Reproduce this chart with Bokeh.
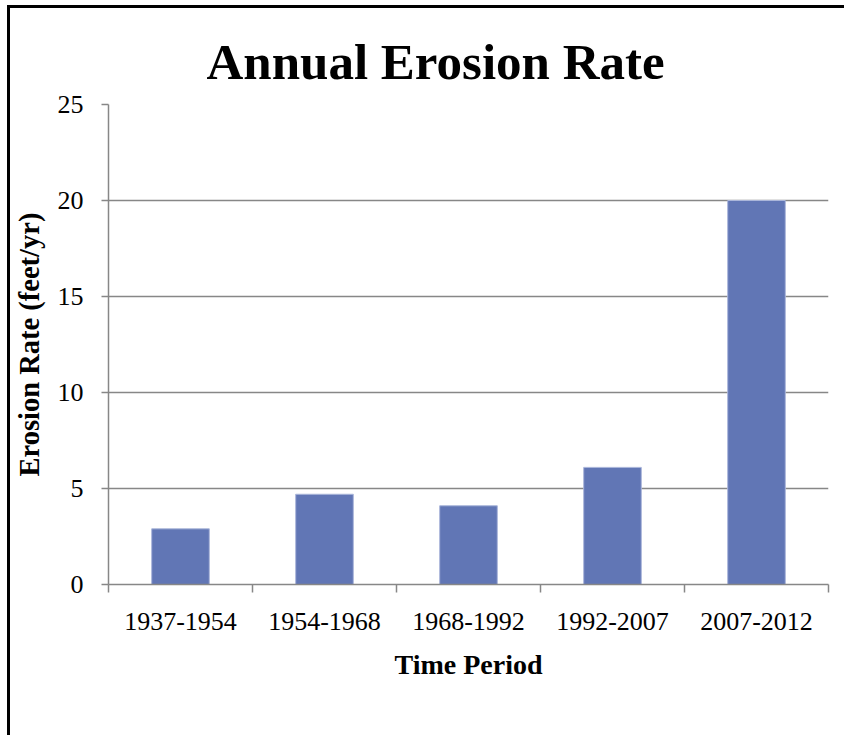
from bokeh.plotting import figure
from bokeh.models import (ColumnDataSource, Range1d, FixedTicker, SingleIntervalTicker,
                          CustomJSTickFormatter)
from bokeh.embed import file_html
from bokeh.resources import INLINE

# ---- data ----
periods = ["1937-1954", "1954-1968", "1968-1992", "1992-2007", "2007-2012"]
erosion_rate = [2.9, 4.7, 4.1, 6.1, 20.0]
title_text = "Annual Erosion Rate"
x_title = "Time Period"
y_title = "Erosion Rate (feet/yr)"

n = len(periods)
centers = [i + 0.5 for i in range(n)]
edges = [i for i in range(n + 1)]

src = ColumnDataSource(dict(x=centers, top=erosion_rate, period=periods))

SERIF = "Liberation Serif"
GREY = "#878787"

p = figure(width=837, height=730, output_backend="svg", toolbar_location=None,
           x_range=Range1d(0, n), y_range=Range1d(0, 25),
           min_border_left=97, min_border_right=19, min_border_top=96, min_border_bottom=154)
p.styles = {"border-top": "3px solid black", "border-left": "3px solid black",
            "margin-left": "7px", "margin-top": "5px"}

p.title.text = title_text
p.title.text_font = SERIF
p.title.text_font_size = "51px"
p.title.text_font_style = "bold"
p.title.text_color = "#000000"
p.title.align = "left"
p.title.offset = 98
p.title.standoff = 30

p.vbar(x="x", top="top", width=0.4, source=src, fill_color="#6176B5",
       line_color="#aab6da", line_width=1)

p.outline_line_color = None
p.xgrid.grid_line_color = None
p.ygrid.grid_line_color = GREY
p.ygrid.grid_line_width = 1.5
p.ygrid.ticker = SingleIntervalTicker(interval=5)

# y axis
ya = p.yaxis[0]
ya.ticker = SingleIntervalTicker(interval=5)
ya.axis_line_color = GREY
ya.axis_line_width = 1.5
ya.major_tick_line_color = GREY
ya.major_tick_line_width = 1.5
ya.major_tick_out = 7
ya.major_tick_in = 0
ya.minor_tick_line_color = None
ya.major_label_text_font = SERIF
ya.major_label_text_font_size = "26px"
ya.major_label_text_color = "#000000"
ya.major_label_standoff = 18
ya.axis_label = y_title
ya.axis_label_text_font = SERIF
ya.axis_label_text_font_size = "28.5px"
ya.axis_label_text_font_style = "bold"
ya.axis_label_text_color = "#000000"
ya.axis_label_standoff = 10

# x axis: labels at centers, ticks between categories
xa = p.xaxis[0]
xa.ticker = FixedTicker(ticks=centers, minor_ticks=edges)
xa.formatter = CustomJSTickFormatter(args=dict(labels=periods),
                                     code="return labels[Math.floor(tick)];")
xa.axis_line_color = GREY
xa.axis_line_width = 1.5
xa.major_tick_line_color = None
xa.major_tick_out = 0
xa.major_tick_in = 0
xa.minor_tick_line_color = GREY
xa.minor_tick_line_width = 1.5
xa.minor_tick_out = 8
xa.minor_tick_in = 0
xa.major_label_text_font = SERIF
xa.major_label_text_font_size = "26px"
xa.major_label_text_color = "#000000"
xa.major_label_standoff = 20
xa.axis_label = x_title
xa.axis_label_text_font = SERIF
xa.axis_label_text_font_size = "28px"
xa.axis_label_text_font_style = "bold"
xa.axis_label_text_color = "#000000"
xa.axis_label_standoff = 16

html = file_html(p, INLINE)
html = html.replace("<body>", '<body style="background: linear-gradient(to right, #efefef 7px, #ffffff 7px)">', 1)
open("out.html", "w").write(html)
